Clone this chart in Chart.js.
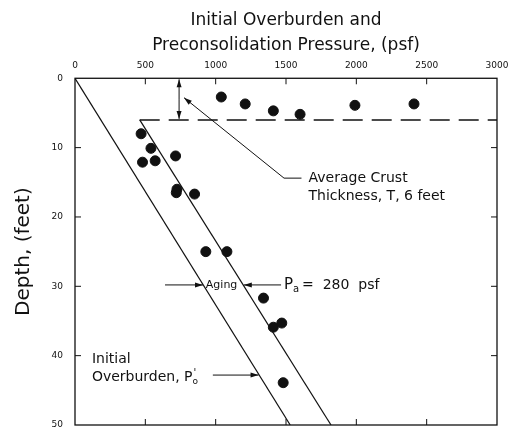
<!DOCTYPE html>
<html>
<head>
<meta charset="utf-8">
<script src="https://cdn.jsdelivr.net/npm/chart.js@4/dist/chart.umd.min.js"></script>
<style>
  html, body { margin: 0; padding: 0; background: #fff; }
  #wrap { width: 508px; height: 431px; position: relative; }
</style>
</head>
<body>
<div id="wrap"><canvas id="chart"></canvas></div>
<script>
// measured preconsolidation pressures (psf) and depths (ft)
const measuredP = [1040, 1210, 1410, 1600, 1990, 2410, 470, 540, 480, 570, 715, 725, 720, 850, 930, 1080, 1340, 1410, 1470, 1480];
const measuredD = [2.7, 3.7, 4.7, 5.2, 3.9, 3.7, 8.0, 10.1, 12.1, 11.9, 11.2, 16.0, 16.5, 16.7, 25.0, 25.0, 31.7, 35.9, 35.3, 43.9];

// initial overburden line
const overburdenP = [0, 1530];
const overburdenD = [0, 50];

// preconsolidation (aging) line
const preconP = [460, 1820];
const preconD = [6, 50];

// crust thickness line
const crustP = [460, 3000];
const crustD = [6, 6];

const xTicks = [0, 500, 1000, 1500, 2000, 2500, 3000];
const yTicks = [0, 10, 20, 30, 40, 50];

const FONT = "'DejaVu Sans', sans-serif";
const INK = '#111';

const pts = (xs, ys) => xs.map((v, i) => ({ x: v, y: ys[i] }));

// frame, inward ticks and the annotations
const annot = {
  id: 'annot',
  afterDatasetsDraw(chart) {
    const { ctx, chartArea: a, scales: { x, y } } = chart;
    const px = v => x.getPixelForValue(v);
    const py = v => y.getPixelForValue(v);

    ctx.save();
    ctx.strokeStyle = INK;
    ctx.fillStyle = INK;
    ctx.lineWidth = 1.3;
    ctx.strokeRect(a.left, a.top, a.right - a.left, a.bottom - a.top);

    ctx.lineWidth = 1;
    ctx.beginPath();
    xTicks.slice(1, -1).forEach(v => {
      ctx.moveTo(px(v), a.top); ctx.lineTo(px(v), a.top + 6);
      ctx.moveTo(px(v), a.bottom); ctx.lineTo(px(v), a.bottom - 6);
    });
    yTicks.slice(1, -1).forEach(v => {
      ctx.moveTo(a.left, py(v)); ctx.lineTo(a.left + 6, py(v));
      ctx.moveTo(a.right, py(v)); ctx.lineTo(a.right - 6, py(v));
    });
    ctx.stroke();

    const arrow = (x1, y1, x2, y2) => {
      ctx.beginPath();
      ctx.moveTo(x1, y1); ctx.lineTo(x2, y2);
      ctx.stroke();
      const ang = Math.atan2(y2 - y1, x2 - x1);
      ctx.beginPath();
      ctx.moveTo(x2, y2);
      ctx.lineTo(x2 - 8 * Math.cos(ang) + 2.5 * Math.sin(ang), y2 - 8 * Math.sin(ang) - 2.5 * Math.cos(ang));
      ctx.lineTo(x2 - 8 * Math.cos(ang) - 2.5 * Math.sin(ang), y2 - 8 * Math.sin(ang) + 2.5 * Math.cos(ang));
      ctx.closePath();
      ctx.fill();
    };

    // crust thickness double arrow
    const cx = px(740);
    arrow(cx, (py(0) + py(6)) / 2, cx, py(0) + 1);
    arrow(cx, (py(0) + py(6)) / 2, cx, py(6) - 1);

    // leader to "Average Crust"
    ctx.beginPath();
    ctx.moveTo(px(1610), py(14.4));
    ctx.lineTo(px(1486), py(14.4));
    ctx.stroke();
    arrow(px(1486), py(14.4), px(775), py(2.8));

    ctx.textBaseline = 'middle';
    ctx.textAlign = 'left';
    ctx.font = '14px ' + FONT;
    ctx.fillText('Average Crust', px(1660), py(14.4));
    ctx.fillText('Thickness, T, 6 feet', px(1660), py(17.0));

    // aging arrows
    ctx.lineWidth = 1;
    arrow(px(640), py(29.8), px(910), py(29.8));
    arrow(px(1465), py(29.8), px(1200), py(29.8));
    ctx.font = '11px ' + FONT;
    ctx.fillText('Aging', px(930), py(29.8));

    // P_a = 280 psf
    let tx = px(1485);
    const ty = py(29.8);
    ctx.font = '15px ' + FONT;
    ctx.fillText('P', tx, ty);
    tx += ctx.measureText('P').width;
    ctx.font = '10px ' + FONT;
    ctx.fillText('a', tx, ty + 4);
    tx += ctx.measureText('a').width + 3;
    ctx.font = '14px ' + FONT;
    ctx.fillText('=  280  psf', tx, ty);

    // initial overburden label
    ctx.font = '14px ' + FONT;
    ctx.fillText('Initial', px(120), py(40.6));
    let ox = px(120);
    const oy = py(43.2);
    ctx.fillText('Overburden, P', ox, oy);
    ox += ctx.measureText('Overburden, P').width;
    ctx.font = '9px ' + FONT;
    ctx.fillText('o', ox, oy + 4);
    ctx.font = '10px ' + FONT;
    ctx.fillText("'", ox + 1, oy - 4);
    arrow(px(980), py(42.8), px(1305), py(42.8));

    ctx.restore();
  }
};

new Chart(document.getElementById('chart'), {
  type: 'scatter',
  data: {
    datasets: [
      {
        label: 'Measured preconsolidation pressure',
        data: pts(measuredP, measuredD),
        backgroundColor: INK,
        borderColor: INK,
        pointRadius: 5,
        pointHoverRadius: 5
      },
      {
        label: 'Initial overburden',
        data: pts(overburdenP, overburdenD),
        showLine: true,
        borderColor: INK,
        borderWidth: 1.2,
        pointRadius: 0
      },
      {
        label: 'Preconsolidation pressure',
        data: pts(preconP, preconD),
        showLine: true,
        borderColor: INK,
        borderWidth: 1.2,
        pointRadius: 0
      },
      {
        label: 'Average crust thickness',
        data: pts(crustP, crustD),
        showLine: true,
        borderColor: INK,
        borderWidth: 1.5,
        borderDash: [20, 9],
        pointRadius: 0
      }
    ]
  },
  options: {
    responsive: true,
    maintainAspectRatio: false,
    animation: false,
    events: [],
    layout: { padding: { left: 0, right: 11, top: 0, bottom: 6 } },
    plugins: {
      legend: { display: false },
      tooltip: { enabled: false },
      title: {
        display: true,
        fullSize: false,
        text: ['Initial Overburden and', 'Preconsolidation Pressure, (psf)'],
        color: INK,
        font: { family: FONT, size: 17, weight: 'normal', lineHeight: 1.42 },
        padding: { top: 9, bottom: 0 }
      }
    },
    scales: {
      x: {
        type: 'linear',
        position: 'top',
        min: 0,
        max: 3000,
        border: { display: false },
        grid: { display: false, drawTicks: false },
        afterFit: s => { s.height = 21; s.paddingLeft = 0; s.paddingRight = 0; },
        afterBuildTicks: s => { s.ticks = xTicks.map(v => ({ value: v })); },
        ticks: {
          autoSkip: false,
          maxRotation: 0,
          padding: 7,
          color: INK,
          font: { family: FONT, size: 9 },
          callback: v => String(v)
        }
      },
      y: {
        type: 'linear',
        reverse: true,
        min: 0,
        max: 50,
        border: { display: false },
        grid: { display: false, drawTicks: false },
        afterFit: s => { s.width = 75; s.paddingTop = 0; s.paddingBottom = 0; },
        afterBuildTicks: s => { s.ticks = yTicks.map(v => ({ value: v })); },
        title: {
          display: true,
          text: 'Depth, (feet)',
          color: INK,
          font: { family: FONT, size: 20 },
          padding: { top: 12, bottom: 0 }
        },
        ticks: {
          autoSkip: false,
          padding: 12,
          color: INK,
          font: { family: FONT, size: 9 },
          callback: v => String(v)
        }
      }
    }
  },
  plugins: [annot]
});
</script>
</body>
</html>
